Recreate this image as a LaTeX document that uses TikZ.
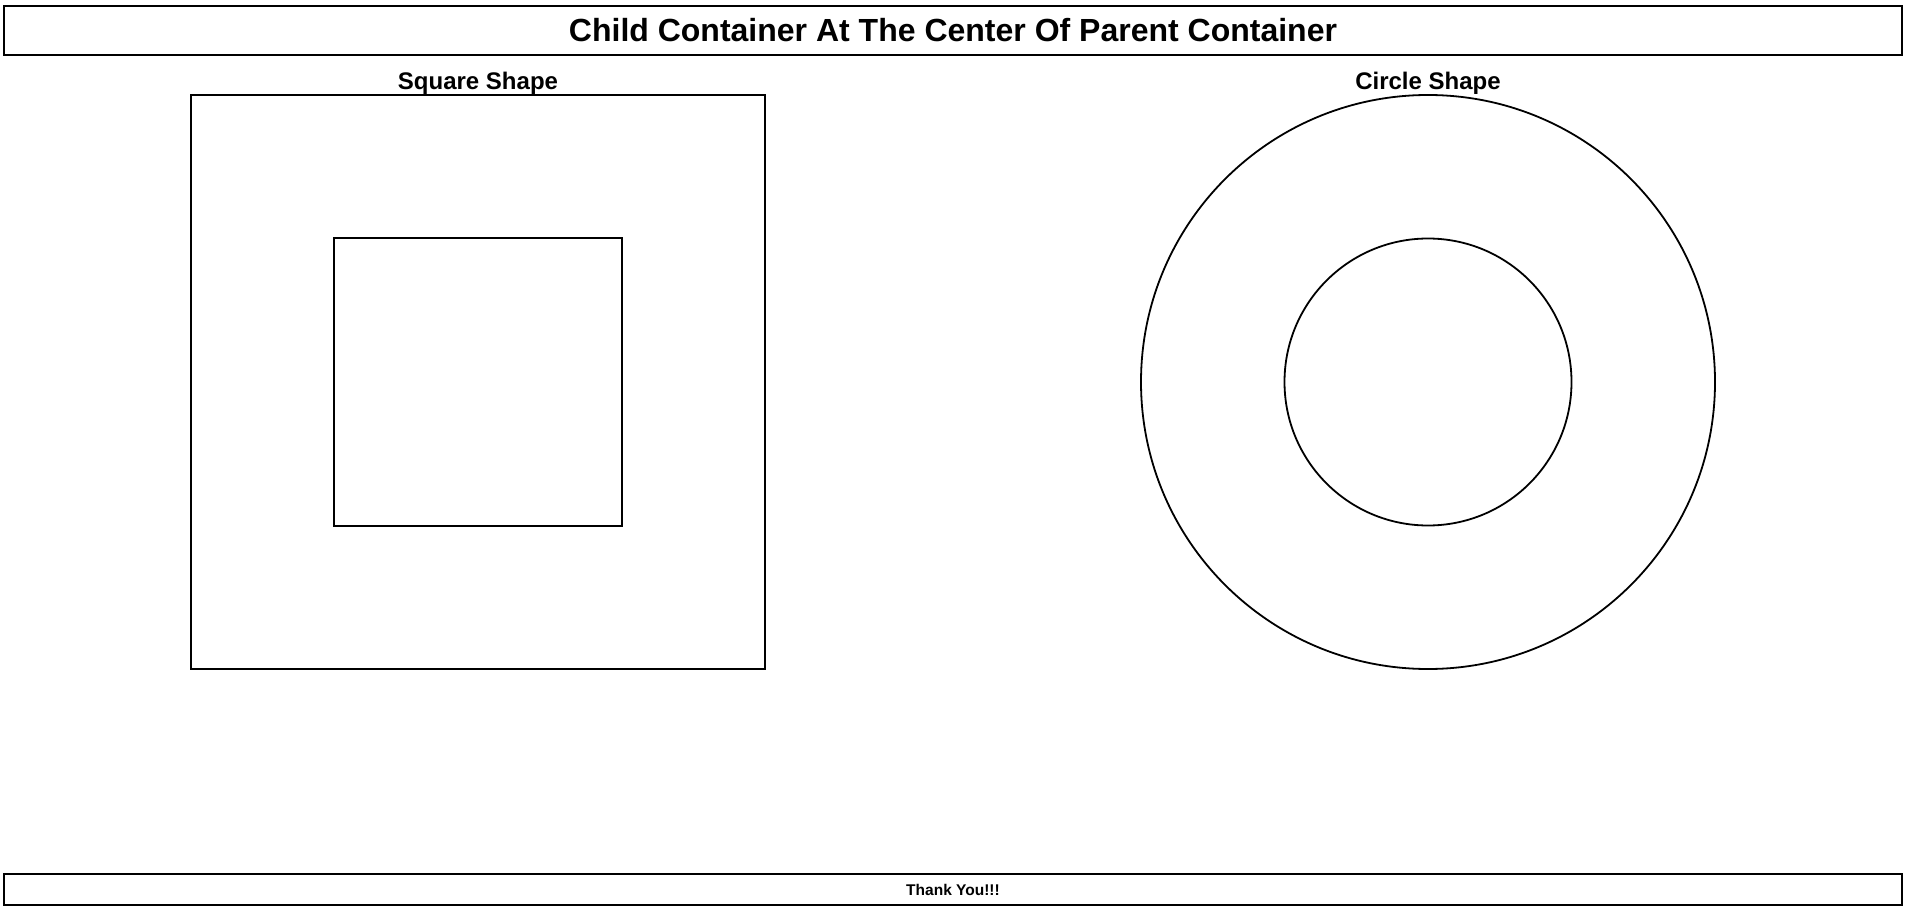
\documentclass[tikz,border=0pt]{standalone}
\usepackage{fontspec}
\setmainfont{Liberation Sans}
\begin{document}
\begin{tikzpicture}[x=1pt,y=-1pt,
  box/.style={draw=black,line width=1.8pt,inner sep=0pt,outer sep=0pt},
  lbl/.style={inner sep=0pt,font=\bfseries\fontsize{24}{28}\selectfont},
  ttl/.style={inner sep=0pt,font=\bfseries\fontsize{32}{38}\selectfont},
  ftr/.style={inner sep=0pt,font=\bfseries\fontsize{15.5}{18}\selectfont}]
\useasboundingbox (0,0) rectangle (1906,909);
% header
\node[box,minimum width=1898pt,minimum height=49pt] (header) at (953,30.5) {};
\node[ttl] (title) at (header.center) {Child Container At The Center Of Parent Container};
% square
\node[box,minimum width=574pt,minimum height=574pt] (sqout) at (478,382) {};
\node[box,minimum width=288pt,minimum height=288pt] (sqin) at (sqout.center) {};
\node[lbl,anchor=base] (sqlbl) at (478,89.5) {Square Shape};
% circle
\node[box,circle,minimum size=574pt] (ciout) at (1428,382) {};
\node[box,circle,minimum size=287pt] (ciin) at (ciout.center) {};
\node[lbl,anchor=base] (cilbl) at (1428,89.5) {Circle Shape};
% footer
\node[box,minimum width=1898pt,minimum height=31pt] (footer) at (953,889.5) {};
\node[ftr] (thanks) at (footer.center) {Thank You!!!};
\end{tikzpicture}
\end{document}
